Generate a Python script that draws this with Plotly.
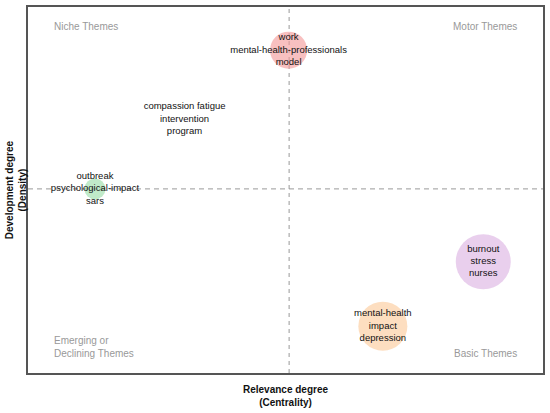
import plotly.graph_objects as go

# Cluster data (normalized centrality / density)
labels = [
    "work<br>mental-health-professionals<br>model",
    "compassion fatigue<br>intervention<br>program",
    "outbreak<br>psychological-impact<br>sars",
    "burnout<br>stress<br>nurses",
    "mental-health<br>impact<br>depression",
]
centrality = [0.506, 0.304, 0.130, 0.884, 0.689]
density = [0.882, 0.693, 0.503, 0.304, 0.128]
bubble_size = [37, 0, 21, 55, 49]
colors = ["rgba(244,150,150,0.85)", "rgba(255,255,255,0)", "rgba(150,220,165,0.85)",
          "rgba(218,175,225,0.85)", "rgba(252,200,150,0.85)"]

x_mid = 0.507
y_mid = 0.503

quadrants = ["Niche Themes", "Motor Themes", "Emerging or<br>Declining Themes", "Basic Themes"]

fig = go.Figure()
fig.add_trace(go.Scatter(
    x=centrality, y=density, mode="markers+text",
    text=labels, textposition="middle center",
    textfont=dict(family="Liberation Sans, Arial", size=9.5, color="#111"),
    marker=dict(size=bubble_size, color=colors, line=dict(width=0)),
    hoverinfo="skip", showlegend=False, cliponaxis=False,
))

fig.add_shape(type="line", x0=x_mid, x1=x_mid, y0=0, y1=1, xref="x", yref="y",
              line=dict(color="#999", width=1, dash="4px,4px"), layer="below")
fig.add_shape(type="line", x0=0, x1=1, y0=y_mid, y1=y_mid, xref="x", yref="y",
              line=dict(color="#999", width=1, dash="5px,4px"), layer="below")

qfont = dict(family="Liberation Sans, Arial", size=10, color="#999")
fig.add_annotation(x=0.046, y=0.946, xref="x", yref="y", text=quadrants[0], showarrow=False,
                   xanchor="left", yanchor="middle", font=qfont)
fig.add_annotation(x=0.954, y=0.946, xref="x", yref="y", text=quadrants[1], showarrow=False,
                   xanchor="right", yanchor="middle", font=qfont)
fig.add_annotation(x=0.046, y=0.072, xref="x", yref="y", text=quadrants[2], showarrow=False,
                   xanchor="left", yanchor="middle", align="left", font=qfont)
fig.add_annotation(x=0.954, y=0.054, xref="x", yref="y", text=quadrants[3], showarrow=False,
                   xanchor="right", yanchor="middle", font=qfont)

tfont = dict(family="Liberation Sans, Arial", size=10, color="#111")
fig.add_annotation(x=0.5, y=-0.025, xref="paper", yref="paper",
                   text="<b>Relevance degree</b><br><b>(Centrality)</b>",
                   showarrow=False, xanchor="center", yanchor="top", font=tfont)
fig.add_annotation(x=-0.05, y=0.5, xref="paper", yref="paper",
                   text="<b>Development degree</b><br><b>(Density)</b>", textangle=-90,
                   showarrow=False, xanchor="left", yanchor="middle", font=tfont)

axis = dict(showgrid=False, zeroline=False, showticklabels=False, ticks="",
            showline=True, mirror=True, linecolor="#555", linewidth=1.5,
            range=[0, 1], fixedrange=True)
fig.update_xaxes(**axis)
fig.update_yaxes(**axis)
fig.update_layout(
    width=550, height=413,
    margin=dict(l=28, r=5, t=5, b=40),
    plot_bgcolor="white", paper_bgcolor="white",
)
fig.write_html("out.html", config={"displayModeBar": False},
               post_script="document.body.style.margin='0';")
